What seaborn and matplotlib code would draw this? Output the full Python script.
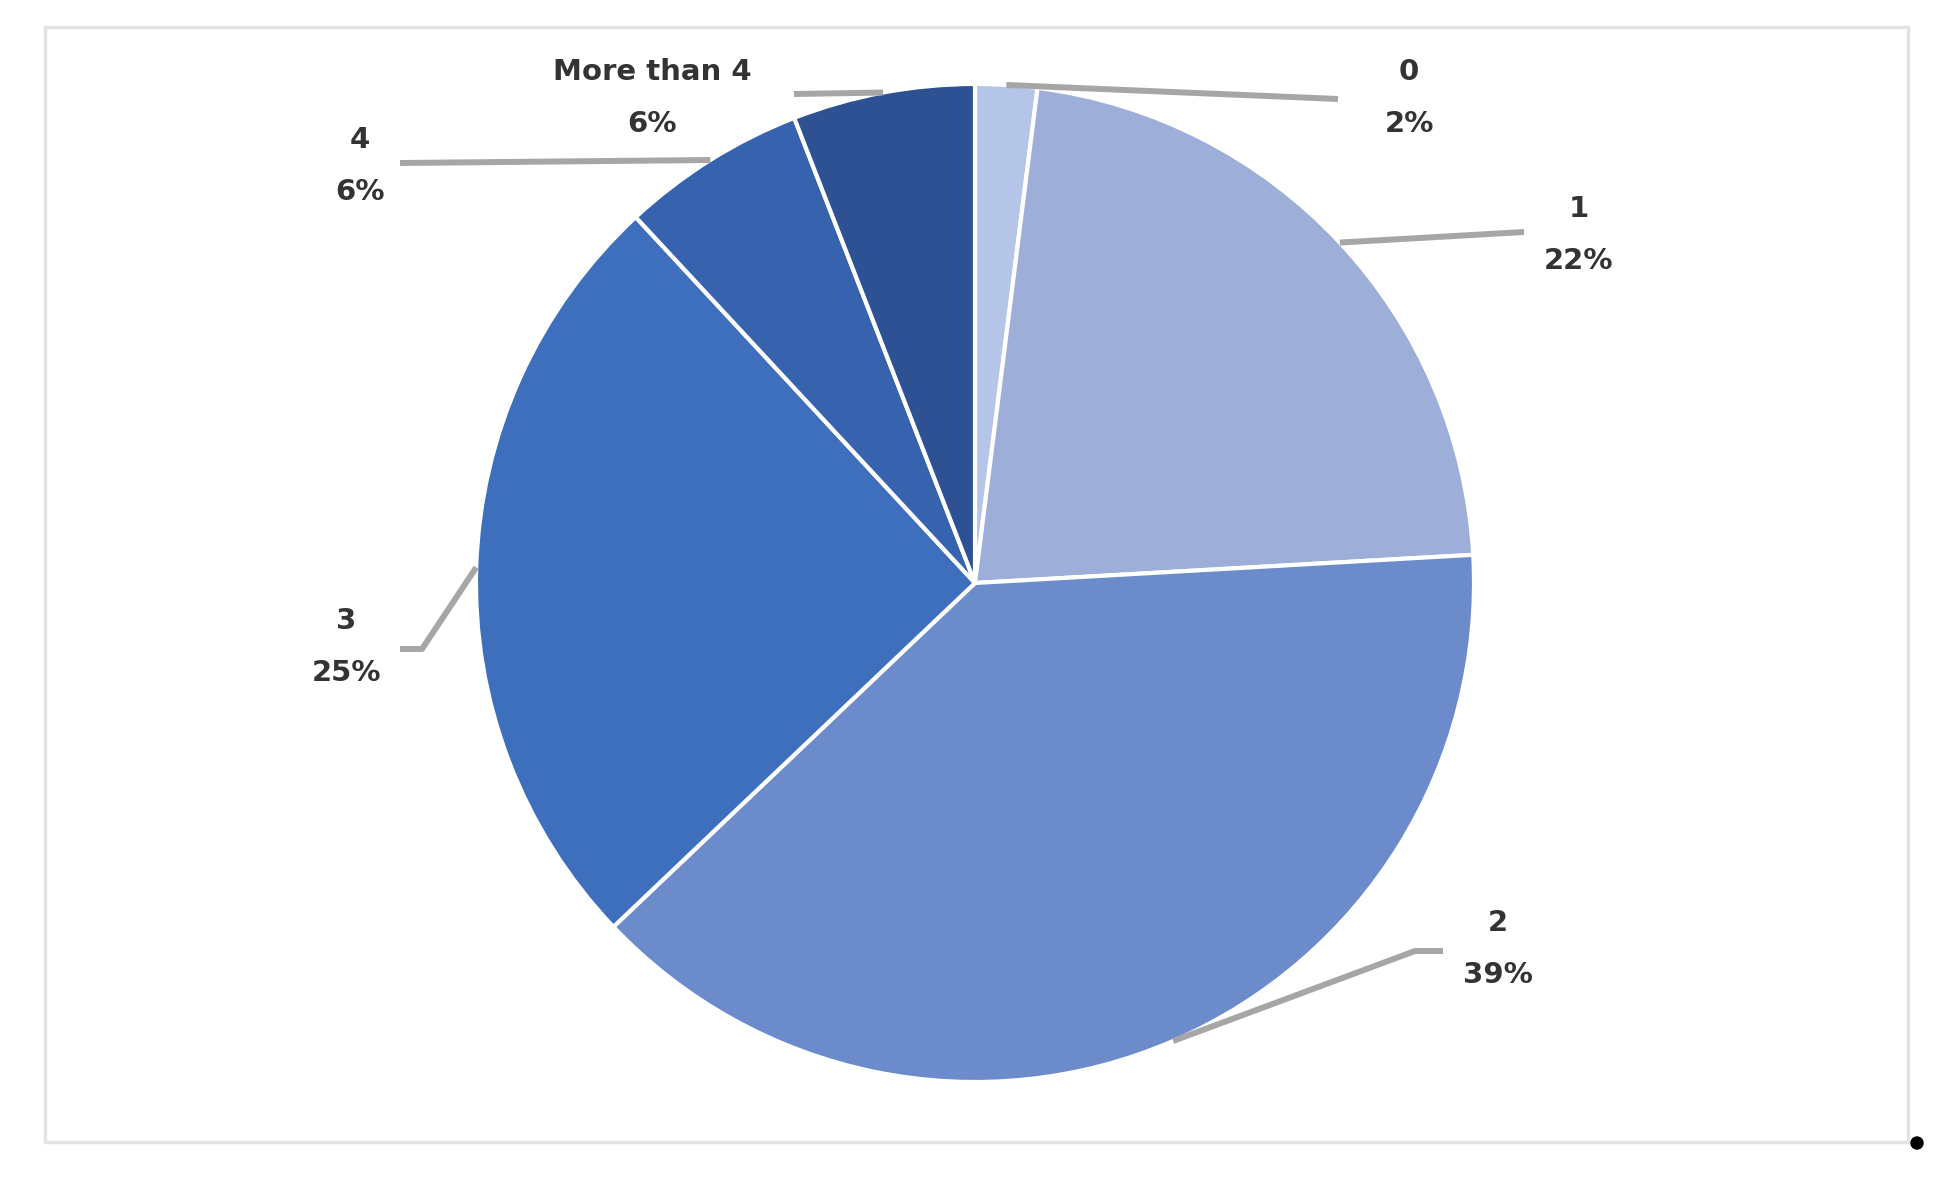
import numpy as np
import matplotlib
matplotlib.use("Agg")
import matplotlib.pyplot as plt
import seaborn as sns
from matplotlib.patches import Rectangle, Circle

# data (percent of respondents)
categories = ["0", "1", "2", "3", "4", "More than 4"]
shares = [2.0, 22.1, 38.8, 25.2, 6.0, 5.9]
pct_labels = ["2%", "22%", "39%", "25%", "6%", "6%"]
slice_colors = ["#b4c5e8", "#9daed9", "#6b8bcb", "#3e6fbc", "#3762ad", "#2e5194"]

sns.set_theme(style="white")
plt.rcParams["font.family"] = ["DejaVu Sans"]

W, H = 1946, 1186
fig = plt.figure(figsize=(W / 100, H / 100), dpi=100)
ax = fig.add_axes([0, 0, 1, 1])

def fy(y):
    # pixel row (from top) -> data y
    return H - y

cx, cy, r = 975, fy(583), 499

# outer frame
ax.add_patch(Rectangle((45, fy(1142)), 1908 - 45, 1142 - 27, fill=False,
                       edgecolor="#e3e3e3", lw=2.5, zorder=0))

wedges, _ = ax.pie(shares, colors=slice_colors, startangle=90, counterclock=False,
                   center=(cx, cy), radius=r, frame=True,
                   wedgeprops=dict(edgecolor="white", linewidth=3))
ax.set_xlim(0, W)
ax.set_ylim(0, H)
ax.set_aspect("equal")
ax.axis("off")

# leader line bends / ends and label centres (pixel layout)
leader_paths = [
    [(1338, 99)],
    [(1524, 232)],
    [(1415, 951), (1443, 951)],
    [(422, 649), (400, 649)],
    [(400, 163)],
    [(794, 94)],
]
label_pos = [(1409, 98), (1579, 235), (1498, 949), (346, 647), (360, 166), (652, 98)]

for w, path, pos, cat, pct in zip(wedges, leader_paths, label_pos, categories, pct_labels):
    mid = np.deg2rad((w.theta1 + w.theta2) / 2)
    sx, sy = cx + r * np.cos(mid), cy + r * np.sin(mid)
    xs = [sx] + [p[0] for p in path]
    ys = [sy] + [fy(p[1]) for p in path]
    ax.plot(xs, ys, color="#a6a6a6", lw=4.3, solid_capstyle="butt", zorder=3)
    ax.text(pos[0], fy(pos[1]), f"{cat}\n{pct}", ha="center", va="center",
            fontsize=21, fontweight="bold", color="#333333", linespacing=2.1)

# stray bullet at the bottom right of the source image
ax.add_patch(Circle((1917, fy(1143)), 6, color="black"))

fig.savefig("out.png", dpi=100)
